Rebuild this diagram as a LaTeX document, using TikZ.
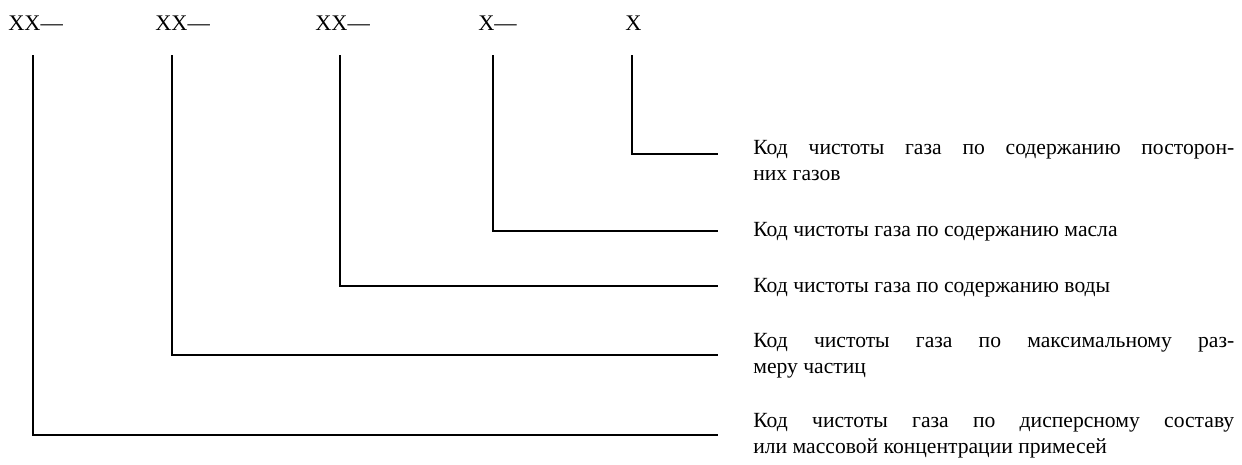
\documentclass[tikz,border=0pt]{standalone}
\usepackage{fontspec}
\setmainfont{Liberation Serif}
\tikzset{
	code/.style={anchor=base west, inner sep=0pt, font=\fontsize{12.7}{14.8}\selectfont},
	note/.style={anchor=base west, inner sep=0pt, text width=9.62cm, align=justify, font=\fontsize{12.3}{14.8}\selectfont},
	lead/.style={line width=0.4mm},
}

\begin{document}
\begin{tikzpicture}[x=0.02cm, y=-0.02cm]
			%%%%% START %%%%%
			
			\useasboundingbox (0, 0) rectangle (1242, 464);
			
			\node[code] (c1) at (8, 30) {XX—};
			\node[code] (c2) at (155, 30) {XX—};
			\node[code] (c3) at (315, 30) {XX—};
			\node[code] (c4) at (478, 30) {X—};
			\node[code] (c5) at (625, 30) {X};
			
			\coordinate (t1) at (33, 55);
			\coordinate (t2) at (172, 55);
			\coordinate (t3) at (340, 55);
			\coordinate (t4) at (493, 55);
			\coordinate (t5) at (632, 55);
			
			\coordinate (e1) at (718, 435);
			\coordinate (e2) at (718, 355);
			\coordinate (e3) at (718, 286);
			\coordinate (e4) at (718, 231);
			\coordinate (e5) at (718, 154);
			
			\node[note] (d5) at (753, 154) {Код чистоты газа по содержанию посторон-\linebreak них газов};
			\node[note] (d4) at (753, 236) {Код чистоты газа по содержанию масла};
			\node[note] (d3) at (753, 292) {Код чистоты газа по содержанию воды};
			\node[note] (d2) at (753, 347) {Код чистоты газа по максимальному раз-\linebreak меру частиц};
			\node[note] (d1) at (753, 427) {Код чистоты газа по дисперсному составу\linebreak или массовой концентрации примесей};
			
			\draw[lead] (t1) |- (e1);
			\draw[lead] (t2) |- (e2);
			\draw[lead] (t3) |- (e3);
			\draw[lead] (t4) |- (e4);
			\draw[lead] (t5) |- (e5);
			
			%%%%% END %%%%%
		\end{tikzpicture}
\end{document}
